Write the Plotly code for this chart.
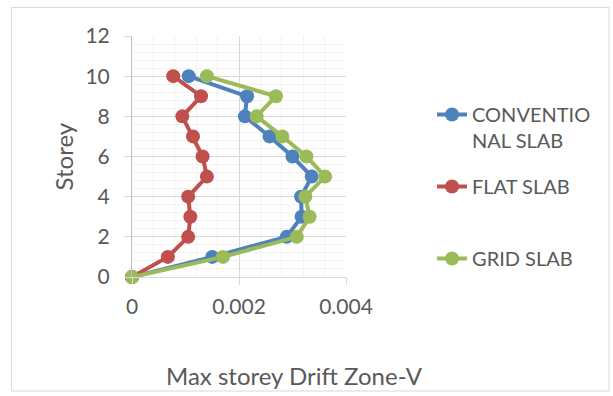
import plotly.graph_objects as go

# Storey levels and maximum storey drift (Zone-V) for each slab system
storey = [0, 1, 2, 3, 4, 5, 6, 7, 8, 9, 10]
conventional_slab = [0, 0.00150, 0.00289, 0.00317, 0.00316, 0.00336, 0.00300, 0.00257, 0.00211, 0.00215, 0.00106]
flat_slab = [0, 0.00067, 0.00105, 0.00109, 0.00105, 0.00140, 0.00132, 0.00114, 0.00094, 0.00129, 0.00077]
grid_slab = [0, 0.00170, 0.00308, 0.00332, 0.00324, 0.00361, 0.00326, 0.00281, 0.00233, 0.00269, 0.00140]

series_names = ["CONVENTIO<br>NAL SLAB", "FLAT SLAB<br> ", "GRID SLAB<br> "]
series_colors = ["#4F81BD", "#C0504D", "#9BBB59"]

x_tick_vals = [0, 0.002, 0.004]
x_tick_text = ["0", "0.002", "0.004"]

FONT = "Lato"
TEXT_COLOR = "#595959"
GRID_MAJOR = "#D9D9D9"
GRID_MINOR = "#F2F2F2"

fig = go.Figure()
for i, (name, vals, color) in enumerate(zip(series_names, [conventional_slab, flat_slab, grid_slab], series_colors)):
    fig.add_trace(go.Scatter(
        x=vals, y=storey, name=name, mode="lines+markers",
        line=dict(color=color, width=4),
        marker=dict(color=color, size=14),
        cliponaxis=False,
        legendgroup=f"g{i}",
    ))

fig.update_layout(
    width=613, height=396,
    margin=dict(l=132, r=267, t=36, b=119),
    paper_bgcolor="white", plot_bgcolor="white",
    font=dict(family=FONT, size=21, color=TEXT_COLOR),
    showlegend=True,
    legend=dict(
        x=1.402, y=(277 - 95) / 241, xanchor="left", yanchor="top",
        valign="top", tracegroupgap=17,
        font=dict(family=FONT, size=20, color=TEXT_COLOR),
        bgcolor="rgba(0,0,0,0)",
    ),
    xaxis=dict(
        range=[0, 0.004], tickvals=x_tick_vals, ticktext=x_tick_text,
        showgrid=True, gridcolor=GRID_MAJOR, gridwidth=1,
        minor=dict(dtick=0.0004, showgrid=True, gridcolor=GRID_MINOR, gridwidth=1),
        showline=True, linecolor=GRID_MAJOR, linewidth=1,
        ticks="outside", ticklen=7, tickcolor=GRID_MAJOR,
        ticklabelstandoff=4, zeroline=False, mirror=False,
    ),
    yaxis=dict(
        range=[0, 12], dtick=2,
        showgrid=True, gridcolor=GRID_MAJOR, gridwidth=1,
        minor=dict(dtick=0.4, showgrid=True, gridcolor=GRID_MINOR, gridwidth=1),
        showline=True, linecolor="#BFBFBF", linewidth=1,
        ticks="outside", ticklen=7, tickcolor=GRID_MAJOR,
        ticklabelstandoff=10, zeroline=False,
    ),
    annotations=[
        dict(text="Storey", textangle=-90, xref="paper", yref="paper",
             x=(63 - 132) / 214, y=0.5, xanchor="center", yanchor="middle",
             showarrow=False,
             font=dict(family=FONT, size=24, color=TEXT_COLOR)),
        dict(text="Max storey Drift Zone-V", xref="paper", yref="paper",
             x=(294 - 132) / 214, y=(277 - 375) / 241,
             xanchor="center", yanchor="middle", showarrow=False,
             font=dict(family=FONT, size=24, color=TEXT_COLOR)),
    ],
    shapes=[
        dict(type="rect", xref="paper", yref="paper",
             x0=(11.5 - 132) / 214, x1=(609 - 132) / 214,
             y0=(277 - 391) / 241, y1=(277 - 7.5) / 241,
             line=dict(color=GRID_MAJOR, width=1), layer="below"),
    ],
)

fig.write_html("out.html")
